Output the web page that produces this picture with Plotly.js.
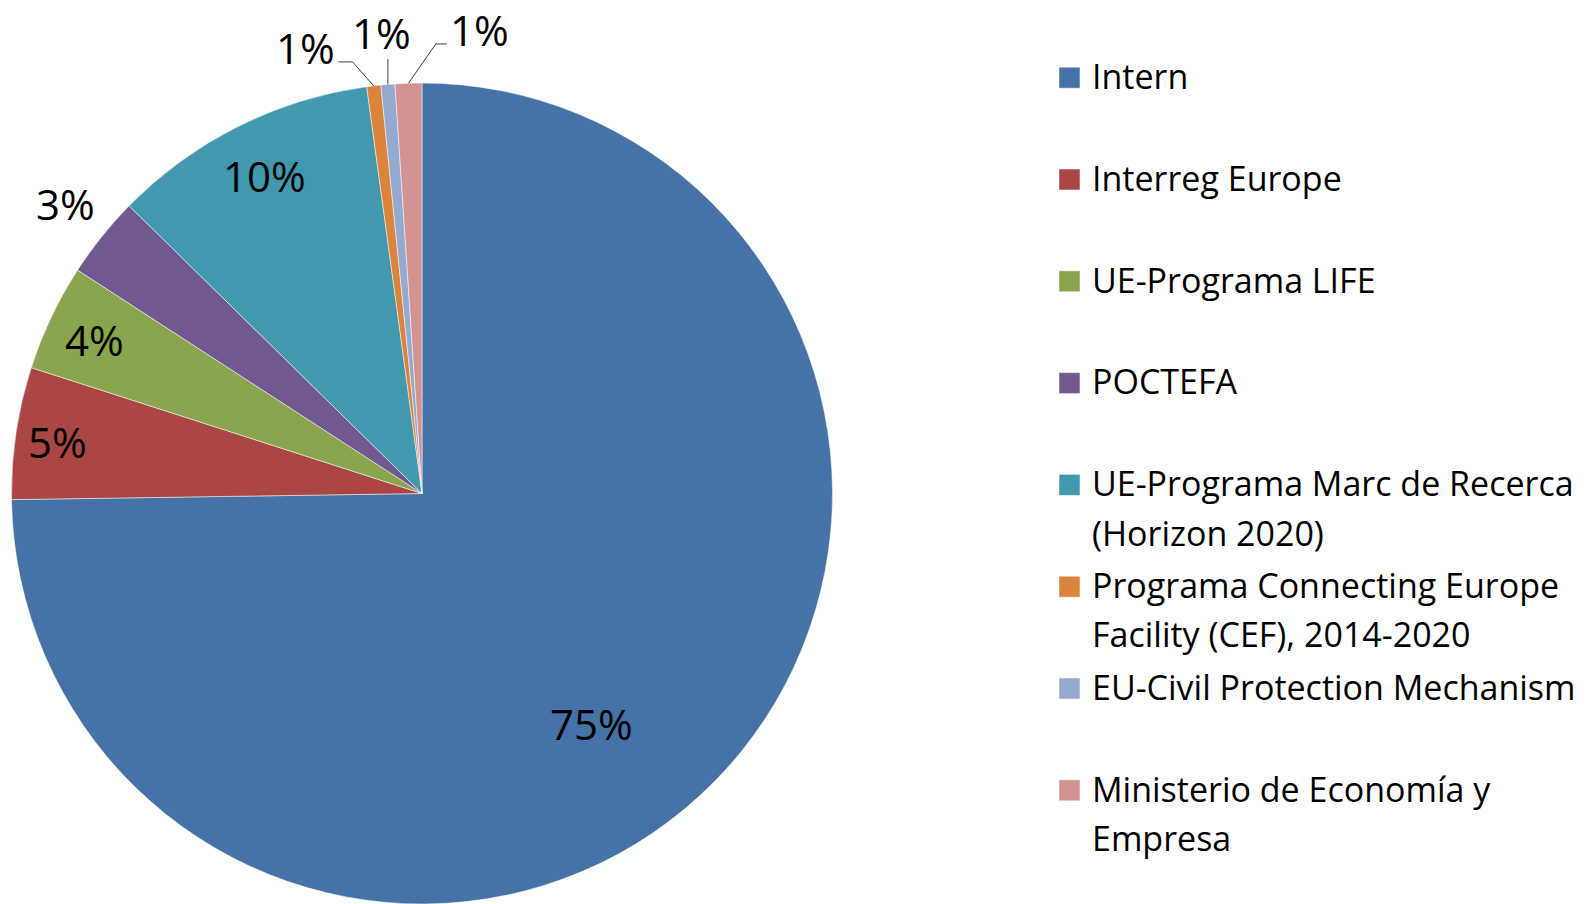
<!DOCTYPE html>
<html>
<head>
<meta charset="utf-8">
<script src="https://cdn.plot.ly/plotly-3.0.1.min.js"></script>
<style>html,body{margin:0;padding:0;background:#fff;}#chart{width:1596px;height:904px;}</style>
</head>
<body>
<div id="chart"></div>
<script>
// ---- Data ----
const categories = [
  'Intern',
  'Interreg Europe',
  'UE-Programa LIFE',
  'POCTEFA',
  'UE-Programa Marc de Recerca (Horizon 2020)',
  'Programa Connecting Europe Facility (CEF), 2014-2020',
  'EU-Civil Protection Mechanism',
  'Ministerio de Economía y Empresa'
];
const legendLabels = [
  'Intern',
  'Interreg Europe',
  'UE-Programa LIFE',
  'POCTEFA',
  'UE-Programa Marc de Recerca<br>(Horizon 2020)',
  'Programa Connecting Europe<br>Facility (CEF), 2014-2020',
  'EU-Civil Protection Mechanism',
  'Ministerio de Economía y<br>Empresa'
];
const values = [74.8, 5.2, 4.2, 3.2, 10.5, 0.55, 0.55, 1.05];
const colors = ['#4572A7', '#AA4643', '#89A54E', '#71588F', '#4198AF', '#DB843D', '#93A9CF', '#D19392'];

// ---- Label placement (style, not data) ----
const labelRadius = [0.704, 0.896, 0.878, 1.113, 0.857, 1.115, 1.128, 1.138];   // fraction of pie radius
const labelAngleShift = [9.6, -1.0, -0.9, 0, 0, -8.0, -0.2, 9.0];             // degrees
const labelYShift = [4, 4, 4, 4, 4, 3, 0, 0];                                 // px
// leader lines: [elbow offset, end offset] from label centre (px), null = none
const leaders = [null, null, null, null, null, [[47, 14], [33, 14]], [[6, 27], [6, 27]], [[-44, 14], [-33, 14]]];

const W = 1596, H = 904;
const FONT = '"Open Sans", Lato, sans-serif';
const pieTop = 83, pieBottom = H;             // px
const R = (pieBottom - pieTop) / 2;
const CX = 422, CY = pieTop + R;

const total = values.reduce((a, b) => a + b, 0);
const toPaper = (px, py) => [px / W, 1 - py / H];
const polar = (deg, r) => [CX + r * Math.sin(deg * Math.PI / 180), CY - r * Math.cos(deg * Math.PI / 180)];

const annotations = [];
const shapes = [];
let cum = 0;
values.forEach((v, i) => {
  const a0 = cum / total * 360;
  cum += v;
  const a1 = cum / total * 360;
  const mid = (a0 + a1) / 2;
  const [tx, ty] = polar(mid + labelAngleShift[i], labelRadius[i] * R);
  const [px, py] = toPaper(tx, ty);
  annotations.push({
    xref: 'paper', yref: 'paper', x: px, y: py, xanchor: 'center', yanchor: 'middle',
    yshift: labelYShift[i],
    text: Math.round(v / total * 100) + '%', showarrow: false,
    font: { family: FONT, size: 42, color: '#000000' }
  });
  if (leaders[i]) {
    const [ex, ey] = polar(mid, R);
    const ty2 = ty - labelYShift[i];
    const pts = [[ex, ey], [tx + leaders[i][0][0], ty2 + leaders[i][0][1]], [tx + leaders[i][1][0], ty2 + leaders[i][1][1]]]
      .map(p => toPaper(p[0], p[1]));
    shapes.push({
      type: 'path', xref: 'paper', yref: 'paper',
      path: 'M' + pts.map(p => p[0] + ',' + p[1]).join('L'),
      line: { color: '#404040', width: 1 }
    });
  }
});

const shownLabels = legendLabels.map(l => {
  const lines = l.split('<br>');
  while (lines.length < 2) lines.push('\u00a0');
  return lines.map(s => '<span style="font-size:34px">' + s + '</span>').join('<br>');
});

const trace = {
  type: 'pie',
  labels: shownLabels,
  values: values,
  sort: false,
  direction: 'clockwise',
  rotation: 0,
  marker: { colors: colors, line: { color: '#ffffff', width: 0.5 } },
  textinfo: 'none',
  hoverinfo: 'none',
  domain: { x: [(CX - R) / W, (CX + R) / W], y: [0, 1 - pieTop / H] }
};

const layout = {
  width: W,
  height: H,
  margin: { l: 0, r: 0, t: 0, b: 0 },
  paper_bgcolor: '#ffffff',
  font: { family: FONT, color: '#000000' },
  showlegend: true,
  annotations: annotations,
  shapes: shapes,
  legend: {
    x: 1052 / W,
    xanchor: 'left',
    y: 1 - 43 / H,
    yanchor: 'top',
    valign: 'top',
    font: { family: FONT, size: 38, color: '#000000' },
    bgcolor: 'rgba(0,0,0,0)',
    traceorder: 'normal'
  }
};

Plotly.newPlot('chart', [trace], layout, { displayModeBar: false, staticPlot: true }).then(gd => {
  document.querySelectorAll('.legendpoints path').forEach(p => {
    p.removeAttribute('transform');
    p.setAttribute('d', 'M7,-7H28V14H7Z');
  });
});
</script>
</body>
</html>
